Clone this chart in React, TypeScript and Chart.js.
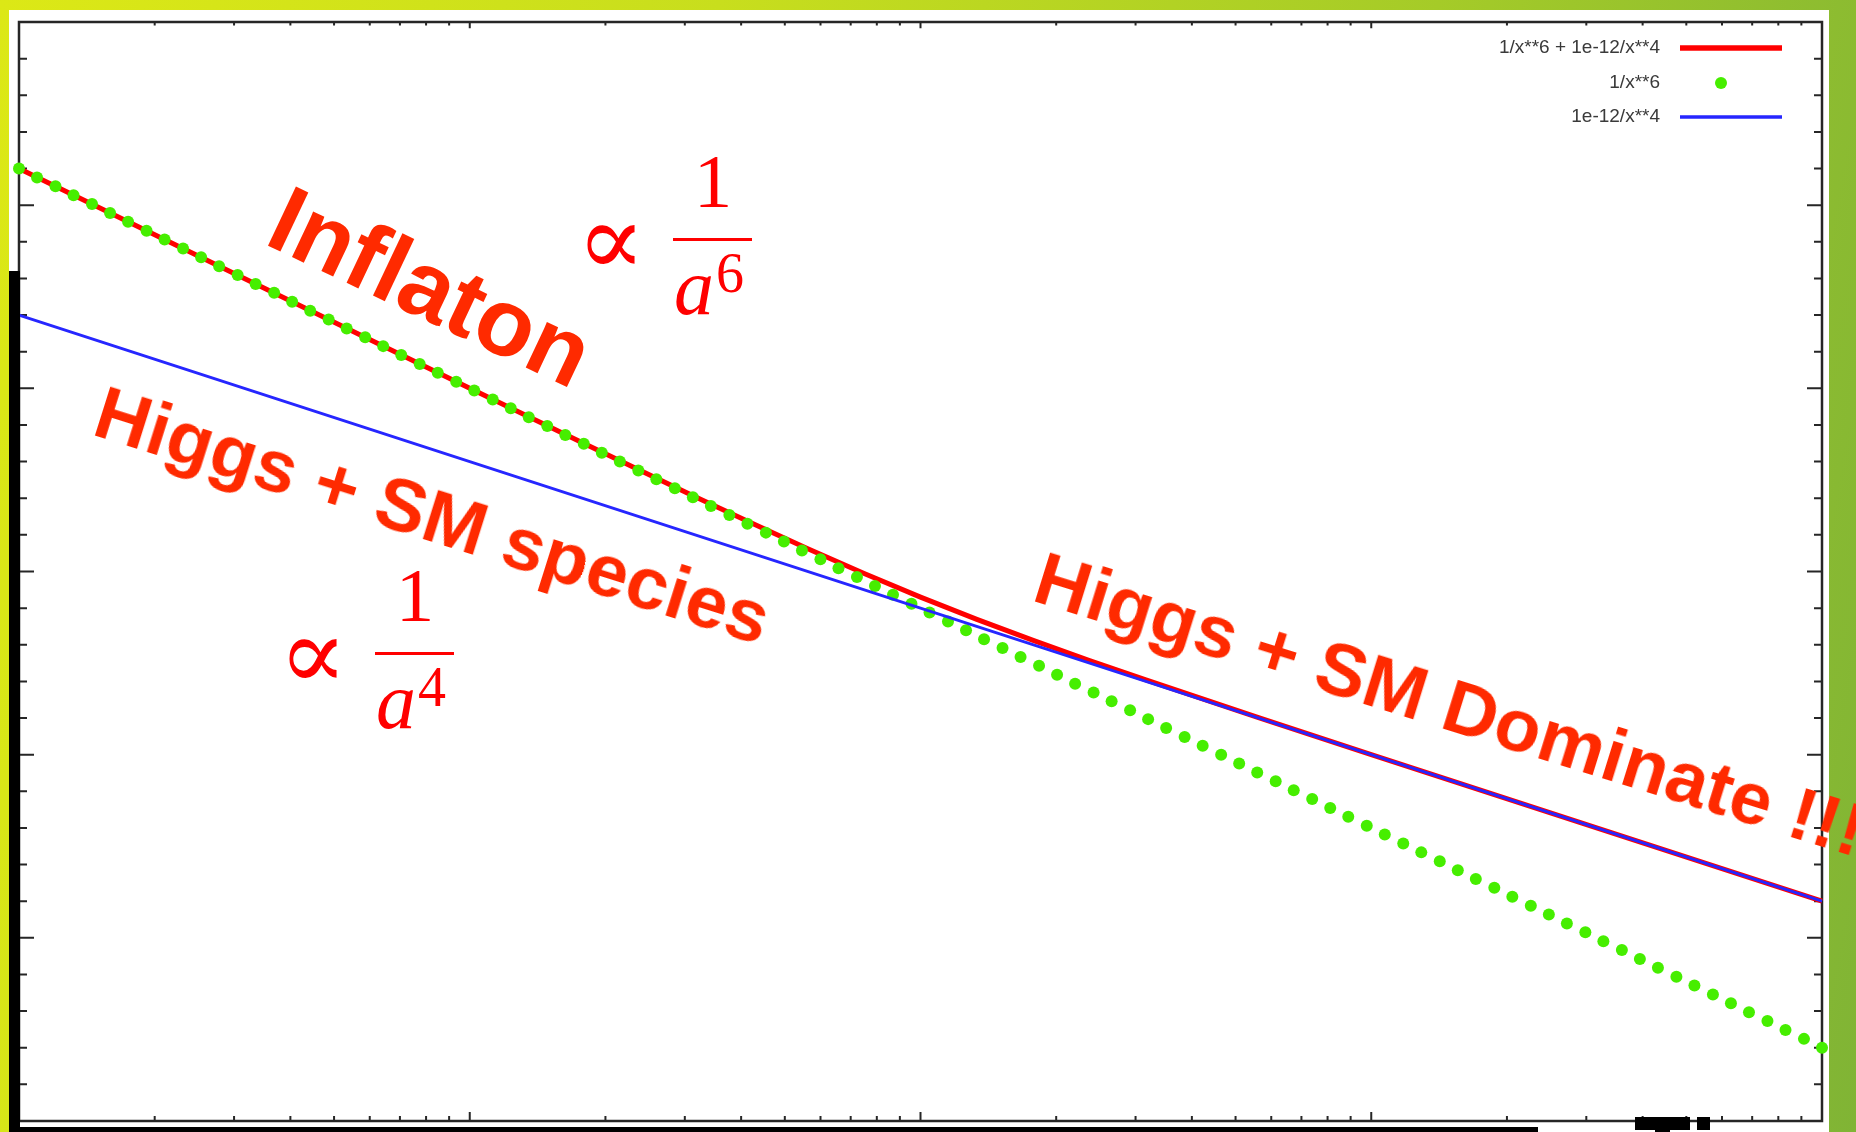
import React, { useEffect, useRef } from "react";
import { Chart, registerables } from "chart.js";

Chart.register(...registerables);

// ---- series ---------------------------------------------------------------
const seriesLabels = ["1/x**6 + 1e-12/x**4", "1/x**6", "1e-12/x**4"];
const seriesColors = ["#ff0000", "#46ee00", "#2626ff"];

// log10(x) of the 100 sample points
const sampleLogX = [
  4.0, 4.04, 4.081, 4.121, 4.162, 4.202, 4.242, 4.283, 4.323, 4.364,
  4.404, 4.444, 4.485, 4.525, 4.566, 4.606, 4.646, 4.687, 4.727, 4.768,
  4.808, 4.848, 4.889, 4.929, 4.97, 5.01, 5.051, 5.091, 5.131, 5.172,
  5.212, 5.253, 5.293, 5.333, 5.374, 5.414, 5.455, 5.495, 5.535, 5.576,
  5.616, 5.657, 5.697, 5.737, 5.778, 5.818, 5.859, 5.899, 5.939, 5.98,
  6.02, 6.061, 6.101, 6.141, 6.182, 6.222, 6.263, 6.303, 6.343, 6.384,
  6.424, 6.465, 6.505, 6.545, 6.586, 6.626, 6.667, 6.707, 6.747, 6.788,
  6.828, 6.869, 6.909, 6.949, 6.99, 7.03, 7.071, 7.111, 7.152, 7.192,
  7.232, 7.273, 7.313, 7.354, 7.394, 7.434, 7.475, 7.515, 7.556, 7.596,
  7.636, 7.677, 7.717, 7.758, 7.798, 7.838, 7.879, 7.919, 7.96, 8.0,
];

// log10(1/x**6) at the samples (dotted inflaton curve)
const inflatonLogY = [
  -24.0, -24.242, -24.485, -24.727, -24.97, -25.212, -25.455, -25.697, -25.939, -26.182,
  -26.424, -26.667, -26.909, -27.152, -27.394, -27.636, -27.879, -28.121, -28.364, -28.606,
  -28.848, -29.091, -29.333, -29.576, -29.818, -30.061, -30.303, -30.545, -30.788, -31.03,
  -31.273, -31.515, -31.758, -32.0, -32.242, -32.485, -32.727, -32.97, -33.212, -33.455,
  -33.697, -33.939, -34.182, -34.424, -34.667, -34.909, -35.152, -35.394, -35.636, -35.879,
  -36.121, -36.364, -36.606, -36.848, -37.091, -37.333, -37.576, -37.818, -38.061, -38.303,
  -38.545, -38.788, -39.03, -39.273, -39.515, -39.758, -40.0, -40.242, -40.485, -40.727,
  -40.97, -41.212, -41.455, -41.697, -41.939, -42.182, -42.424, -42.667, -42.909, -43.152,
  -43.394, -43.636, -43.879, -44.121, -44.364, -44.606, -44.848, -45.091, -45.333, -45.576,
  -45.818, -46.061, -46.303, -46.545, -46.788, -47.03, -47.273, -47.515, -47.758, -48.0,
];

// total energy density: 1/x**6 + 1e-12/x**4
const totalLogX = [4, 4.5, 5, 5.25, 5.5, 5.625, 5.75, 5.875, 6, 6.125, 6.25, 6.375, 6.5, 6.75, 7, 7.5, 8];
const totalLogY = [
  -24.0, -27.0, -29.996, -31.487, -32.959, -33.679, -34.381, -35.056, -35.699,
  -36.306, -36.881, -37.429, -37.959, -38.987, -39.996, -42.0, -44.0,
];

// radiation: 1e-12/x**4
const higgsLogX = [4, 5, 6, 7, 8];
const higgsLogY = [-28, -32, -36, -40, -44];

// ---- axes -----------------------------------------------------------------
const xRange = [1e4, 1e8];
const yRange = [1e-50, 1e-20];
const xTickDecades = [4, 5, 6, 7, 8];
const xTickSubdivisions = [2, 3, 4, 5, 6, 7, 8, 9];
const yMajorTickLogs = [-50, -45, -40, -35, -30, -25, -20];
const yMinorTickLogs = [
  -49, -48, -47, -46, -44, -43, -42, -41, -39, -38, -37, -36,
  -34, -33, -32, -31, -29, -28, -27, -26, -24, -23, -22, -21,
];

const toPoints = (lx: number[], ly: number[]) =>
  lx.map((u, i) => ({ x: Math.pow(10, u), y: Math.pow(10, ly[i]) }));

// Border with inward ticks on all four sides, plus a key in the top-right corner.
const gnuplotFrame = {
  id: "gnuplotFrame",
  beforeDatasetsDraw(chart: any) {
    const { ctx, chartArea: a } = chart;
    const xs = chart.scales.x;
    const ys = chart.scales.y;
    ctx.save();
    ctx.strokeStyle = "#262626";
    ctx.lineWidth = 2;
    ctx.beginPath();
    const xTick = (v: number, len: number) => {
      const p = xs.getPixelForValue(v);
      ctx.moveTo(p, a.bottom);
      ctx.lineTo(p, a.bottom - len);
      ctx.moveTo(p, a.top);
      ctx.lineTo(p, a.top + len * 0.7);
    };
    const yTick = (v: number, len: number) => {
      const p = ys.getPixelForValue(v);
      ctx.moveTo(a.left, p);
      ctx.lineTo(a.left + len, p);
      ctx.moveTo(a.right, p);
      ctx.lineTo(a.right - len, p);
    };
    xTickDecades.forEach((d, i) => {
      xTick(Math.pow(10, d), 9);
      if (i < xTickDecades.length - 1) {
        xTickSubdivisions.forEach((m) => xTick(m * Math.pow(10, d), 5));
      }
    });
    yMajorTickLogs.forEach((e) => yTick(Math.pow(10, e), 15));
    yMinorTickLogs.forEach((e) => yTick(Math.pow(10, e), 8));
    ctx.stroke();
    ctx.lineWidth = 2.5;
    ctx.strokeRect(a.left, a.top, a.right - a.left, a.bottom - a.top);
    ctx.restore();
  },
  afterDraw(chart: any) {
    const { ctx, chartArea: a } = chart;
    const rowY = [a.top + 26, a.top + 61, a.top + 95];
    const textRight = a.right - 162;
    const sampleL = a.right - 142;
    const sampleR = a.right - 40;
    ctx.save();
    ctx.font = '19px "Liberation Sans", Arial, sans-serif';
    ctx.fillStyle = "#3a3a3a";
    ctx.textAlign = "right";
    ctx.textBaseline = "middle";
    chart.data.datasets.forEach((ds: any, i: number) => {
      const y = rowY[i];
      ctx.fillText(ds.label, textRight, y);
      if (ds.showLine === false) {
        ctx.fillStyle = ds.pointBackgroundColor;
        ctx.beginPath();
        ctx.arc((sampleL + sampleR) / 2 - 10, y, 6, 0, Math.PI * 2);
        ctx.fill();
        ctx.fillStyle = "#3a3a3a";
      } else {
        ctx.strokeStyle = ds.borderColor;
        ctx.lineWidth = ds.borderWidth + 0.5;
        ctx.beginPath();
        ctx.moveTo(sampleL, y);
        ctx.lineTo(sampleR, y);
        ctx.stroke();
      }
    });
    ctx.restore();
  },
};

function Tilted(props: { text: string; x: number; y: number; size: number; angle: number }) {
  const { text, x, y, size, angle } = props;
  const base = 0.8465 * size;
  return (
    <div
      style={{
        position: "absolute",
        left: x,
        top: y - base,
        fontSize: size,
        lineHeight: 1,
        fontFamily: '"Liberation Sans", Arial, sans-serif',
        fontWeight: 700,
        color: "#ff2a00",
        whiteSpace: "nowrap",
        transformOrigin: `0px ${base}px`,
        transform: `rotate(${angle}deg)`,
      }}
    >
      {text}
    </div>
  );
}

function Glyph(props: {
  ch: string;
  cx: number;
  baseline: number;
  size: number;
  italic?: boolean;
  family?: string;
  ascent?: number;
  weight?: number;
}) {
  const {
    ch,
    cx,
    baseline,
    size,
    italic = false,
    family = '"Liberation Serif", "DejaVu Serif", serif',
    ascent = 0.8375,
    weight = 400,
  } = props;
  return (
    <div
      style={{
        position: "absolute",
        left: cx - 100,
        width: 200,
        textAlign: "center",
        top: baseline - ascent * size,
        fontSize: size,
        lineHeight: 1,
        fontFamily: family,
        fontWeight: weight,
        fontStyle: italic ? "italic" : "normal",
        color: "#ff0000",
        whiteSpace: "nowrap",
      }}
    >
      {ch}
    </div>
  );
}

// "∝ 1/a^n" set at the fraction bar's top-left corner (bx, by)
function Scaling(props: { bx: number; by: number; power: string }) {
  const { bx, by, power } = props;
  return (
    <>
      <Glyph
        ch={"\u221d"}
        cx={bx - 62}
        baseline={by + 37}
        size={102}
        family={'"DejaVu Sans ExtraLight", "DejaVu Sans", "DejaVu Serif", serif'}
        ascent={0.846}
        weight={200}
      />
      <Glyph ch="1" cx={bx + 40} baseline={by - 31} size={77} />
      <div style={{ position: "absolute", left: bx, top: by, width: 79, height: 3, background: "#ff0000" }} />
      <Glyph ch="a" cx={bx + 21} baseline={by + 76} size={80} italic />
      <Glyph ch={power} cx={bx + 57} baseline={by + 54} size={56} />
    </>
  );
}

export default function App() {
  const canvasRef = useRef<HTMLCanvasElement | null>(null);

  useEffect(() => {
    const canvas = canvasRef.current;
    if (!canvas) return;
    const chart = new Chart(canvas, {
      type: "scatter",
      data: {
        datasets: [
          {
            label: seriesLabels[0],
            data: toPoints(totalLogX, totalLogY),
            showLine: true,
            borderColor: seriesColors[0],
            borderWidth: 5,
            pointRadius: 0,
            tension: 0,
            order: 3,
            clip: false,
          } as any,
          {
            label: seriesLabels[1],
            data: toPoints(sampleLogX, inflatonLogY),
            showLine: false,
            pointRadius: 6,
            pointBorderWidth: 0,
            pointBackgroundColor: seriesColors[1],
            pointBorderColor: seriesColors[1],
            order: 2,
            clip: false,
          } as any,
          {
            label: seriesLabels[2],
            data: toPoints(higgsLogX, higgsLogY),
            showLine: true,
            borderColor: seriesColors[2],
            borderWidth: 2.8,
            pointRadius: 0,
            tension: 0,
            order: 1,
            clip: false,
          } as any,
        ],
      },
      options: {
        animation: false,
        responsive: false,
        maintainAspectRatio: false,
        layout: { padding: { left: 10, top: 12, right: 7, bottom: 11 } },
        scales: {
          x: { type: "logarithmic", min: xRange[0], max: xRange[1], display: false },
          y: { type: "logarithmic", min: yRange[0], max: yRange[1], display: false },
        },
        plugins: {
          legend: { display: false },
          tooltip: { enabled: false },
        },
      },
      plugins: [gnuplotFrame],
    });
    return () => chart.destroy();
  }, []);

  return (
    <div
      style={{
        position: "fixed",
        left: 0,
        top: 0,
        width: 1856,
        height: 1132,
        overflow: "hidden",
        background: "linear-gradient(100deg, #dce816 0%, #c8de1d 35%, #a5cb28 70%, #80b435 100%)",
      }}
    >
      <div style={{ position: "absolute", left: 9, top: 10, width: 1820, height: 1122, background: "#ffffff" }} />
      <canvas
        ref={canvasRef}
        width={1820}
        height={1122}
        style={{ position: "absolute", left: 9, top: 10, width: 1820, height: 1122, filter: "blur(0.6px)" }}
      />
      {/* black strips along the lower and left edges of the panel */}
      <div style={{ position: "absolute", left: 9, top: 271, width: 11, height: 861, background: "#000" }} />
      <div style={{ position: "absolute", left: 9, top: 1127, width: 1529, height: 5, background: "#000" }} />
      <div style={{ position: "absolute", left: 1635, top: 1117, width: 55, height: 13, background: "#000" }} />
      <div style={{ position: "absolute", left: 1655, top: 1128, width: 15, height: 4, background: "#000" }} />
      <div style={{ position: "absolute", left: 1697, top: 1117, width: 13, height: 13, background: "#000" }} />

      <Tilted text="Inflaton" x={262} y={243} size={95} angle={25.3} />
      <Tilted text="Higgs + SM species" x={90} y={434} size={75} angle={17.5} />
      <Tilted text="Higgs + SM Dominate !!!" x={1030} y={600} size={75} angle={17.3} />

      <Scaling bx={673} by={238} power="6" />
      <Scaling bx={375} by={652} power="4" />
    </div>
  );
}
